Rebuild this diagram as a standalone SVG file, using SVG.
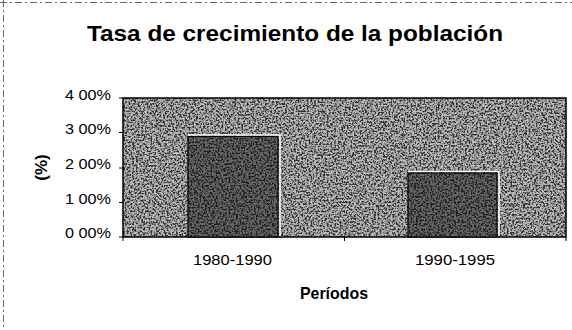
<svg xmlns="http://www.w3.org/2000/svg" width="572" height="330" viewBox="0 0 572 330">
<style>
.t{font-family:"Liberation Sans",Arial,sans-serif;fill:#000}
.ax{font-size:14px}
.cat{font-size:15px}
.ttl{font-size:22px;font-weight:bold}
.lbl{font-size:17px;font-weight:bold}
.tick{stroke:#000;stroke-width:1}
.hl{fill:none;stroke:#fff;stroke-width:1.5}
.bar{fill:#2c2c2c;stroke:#000;stroke-width:1.2}
</style>
<defs>
<filter id="noise" x="0" y="0" width="100%" height="100%">
<feTurbulence type="fractalNoise" baseFrequency="0.55" numOctaves="2" seed="5" result="n"/>
<feColorMatrix in="n" type="matrix" values="4 0 0 0 -1.6  4 0 0 0 -1.6  4 0 0 0 -1.6  0 0 0 0 1" result="g"/>
<feComposite in="g" in2="SourceGraphic" operator="in"/>
</filter>
</defs>
<rect width="572" height="330" fill="#fff"/>
<g id="frame" stroke="#666" stroke-width="1" fill="none" stroke-dasharray="7 3 2 3">
<line x1="0" y1="2.5" x2="572" y2="2.5"/>
<line x1="3.5" y1="0" x2="3.5" y2="330"/>
</g>
<g id="title"><text class="t ttl" x="87" y="41" textLength="416" lengthAdjust="spacingAndGlyphs">Tasa de crecimiento de la población</text></g>
<g id="plot">
<rect x="123" y="98" width="443" height="139" fill="#757575"/>
<rect x="123" y="98" width="443" height="139" fill="#fff" filter="url(#noise)" opacity="0.55"/>
<rect x="123" y="98" width="443" height="139" fill="none" stroke="#000" stroke-width="1.5"/>
</g>
<g id="bar1">
<polyline class="hl" points="188,135 280,135 280,236"/>
<rect class="bar" x="188" y="136.5" width="90" height="100.5"/>
<rect x="188.6" y="137.1" width="88.8" height="99.3" fill="#fff" filter="url(#noise)" opacity="0.3"/>
</g>
<g id="bar2">
<polyline class="hl" points="408,171.5 499,171.5 499,236"/>
<rect class="bar" x="408" y="173" width="89" height="64"/>
<rect x="408.6" y="173.6" width="87.8" height="62.8" fill="#fff" filter="url(#noise)" opacity="0.3"/>
</g>
<g id="axes">
<line class="tick" x1="119" y1="98" x2="123" y2="98"/>
<line class="tick" x1="119" y1="132.5" x2="123" y2="132.5"/>
<line class="tick" x1="119" y1="168" x2="123" y2="168"/>
<line class="tick" x1="119" y1="202.5" x2="123" y2="202.5"/>
<line class="tick" x1="119" y1="237" x2="123" y2="237"/>
<line class="tick" x1="123" y1="237" x2="123" y2="241"/>
<line class="tick" x1="344.5" y1="237" x2="344.5" y2="241"/>
<line class="tick" x1="566" y1="237" x2="566" y2="241"/>
<text class="t ax" x="65" y="100" textLength="46" lengthAdjust="spacingAndGlyphs">4 00%</text>
<text class="t ax" x="65" y="134" textLength="46" lengthAdjust="spacingAndGlyphs">3 00%</text>
<text class="t ax" x="65" y="169" textLength="46" lengthAdjust="spacingAndGlyphs">2 00%</text>
<text class="t ax" x="65" y="204" textLength="46" lengthAdjust="spacingAndGlyphs">1 00%</text>
<text class="t ax" x="65" y="238" textLength="46" lengthAdjust="spacingAndGlyphs">0 00%</text>
<text class="t cat" x="193" y="265" textLength="79" lengthAdjust="spacingAndGlyphs">1980-1990</text>
<text class="t cat" x="415" y="265" textLength="80" lengthAdjust="spacingAndGlyphs">1990-1995</text>
<text class="t lbl" x="300" y="299" textLength="68" lengthAdjust="spacingAndGlyphs">Períodos</text>
<text class="t lbl" x="0" y="0" font-size="15" text-anchor="middle" transform="translate(47,167.5) rotate(-90)">(%)</text>
</g>
</svg>
